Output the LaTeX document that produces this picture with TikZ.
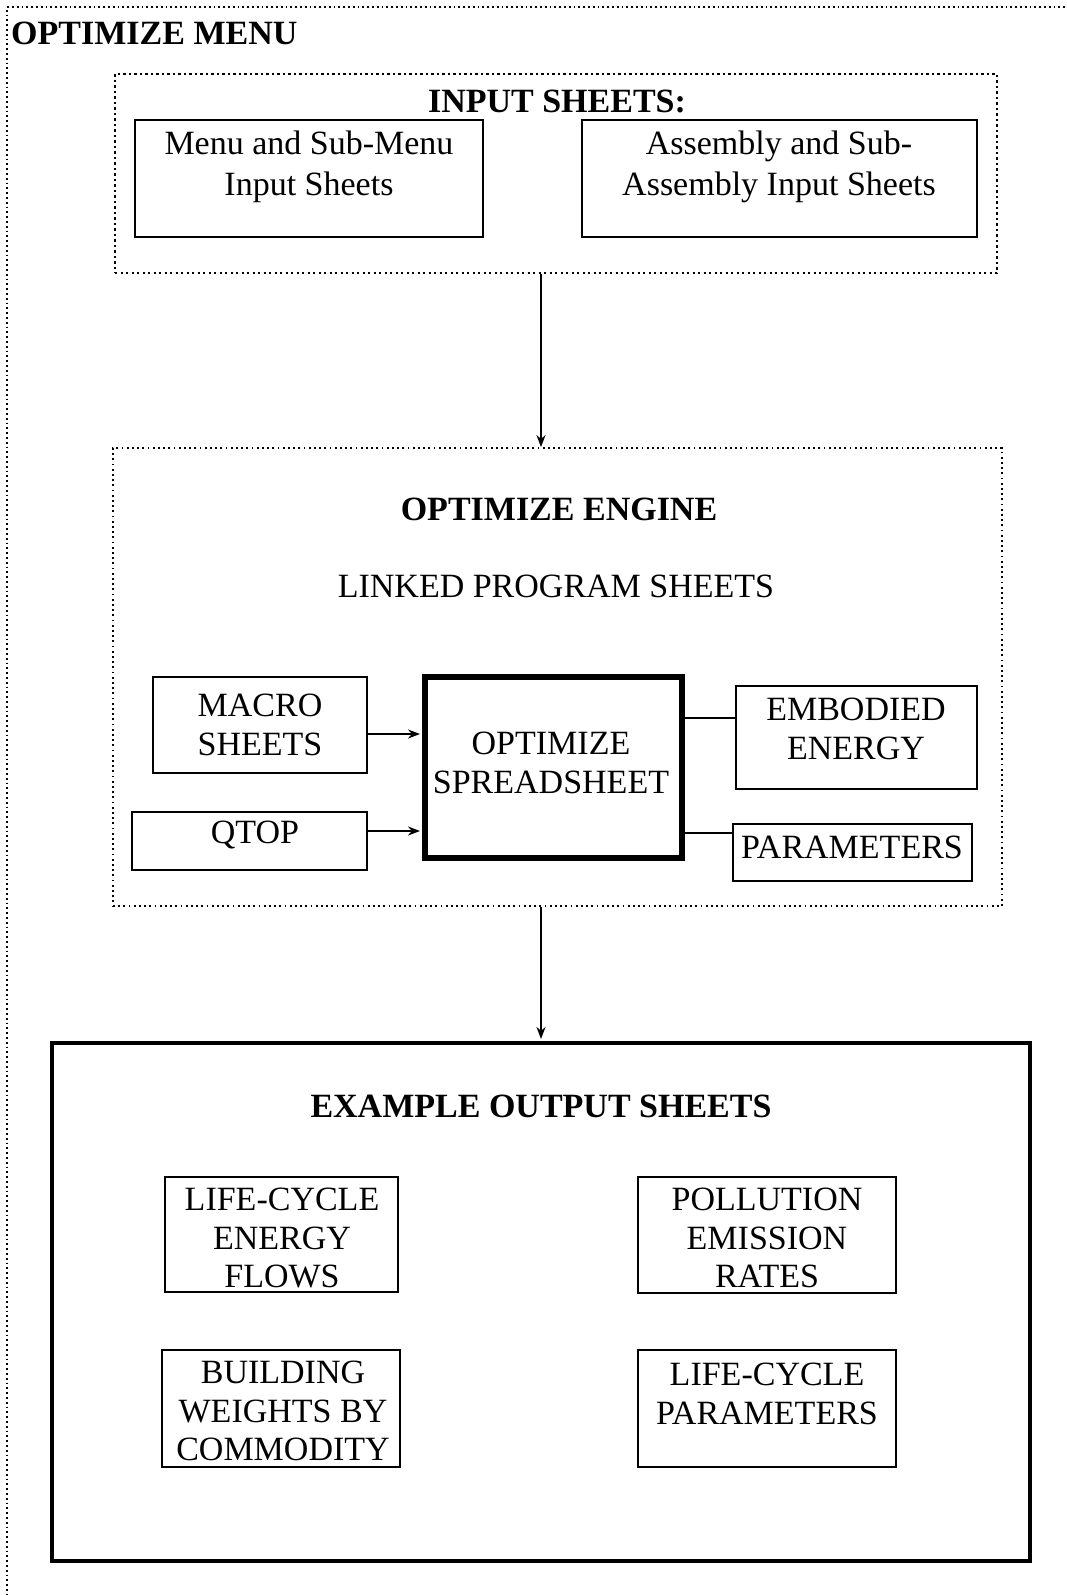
\documentclass[tikz,border=0pt]{standalone}
\usepackage{fontspec}
\setmainfont{Liberation Serif}
\usetikzlibrary{arrows.meta,calc}
\begin{document}
\begin{tikzpicture}[x=1pt,y=-1pt,
  box/.style={draw, line width=2pt, inner sep=0pt, align=center, font=\fontsize{34}{38.5}\selectfont},
  thickbox/.style={box, line width=6pt},
  outbox/.style={draw, line width=4pt, inner sep=0pt},
  txt/.style={inner sep=0pt, align=center, font=\fontsize{34}{38.5}\selectfont},
  ttl/.style={inner sep=0pt, font=\fontsize{34}{38.5}\selectfont\bfseries},
  dotbox/.style={draw, line width=2.3pt, dash pattern=on 2.3pt off 3.2pt, inner sep=0pt},
  dotbox2/.style={draw, line width=1.8pt, dash pattern=on 1.8pt off 3.4pt, inner sep=0pt},
  outer/.style={draw, line width=1.8pt, dash pattern=on 1.8pt off 3pt},
  arr/.style={-{Stealth[length=12pt,width=9pt]}, line width=2pt},
  link/.style={line width=2pt}]
\useasboundingbox (0,0) rectangle (1067,1595);
% outer frame (only top and left edges lie inside the page)
\draw[outer] (7,1610) -- (7,7) -- (1080,7);
\node[ttl, anchor=west] (menu) at (11,33) {OPTIMIZE MENU};

% input sheets
\node[dotbox, minimum width=882pt, minimum height=199pt] (input) at (556,173.5) {};
\node[ttl] (inputt) at (557,101) {INPUT SHEETS:};
\node[box, minimum width=348pt, minimum height=117pt] (b1) at (309,178.5) {};
\node[txt, font=\fontsize{34}{40.5}\selectfont] (b1t) at (309,167) {Menu and Sub-Menu\\Input Sheets};
\node[box, minimum width=395pt, minimum height=117pt] (b2) at (779.5,178.5) {};
\node[txt, font=\fontsize{34}{40.5}\selectfont] (b2t) at (779,167) {Assembly and Sub-\\Assembly Input Sheets};

% engine
\node[dotbox2, minimum width=889pt, minimum height=458pt] (engine) at (557.5,677) {};
\node[ttl] (enginet) at (559,509) {OPTIMIZE ENGINE};
\node[txt] (linked) at (556,586) {LINKED PROGRAM SHEETS};
\node[box, minimum width=214pt, minimum height=96pt] (macro) at (260,725) {MACRO\\SHEETS};
\node[box, minimum width=235pt, minimum height=58pt] (qtop) at (249.5,841) {};
\node[txt] (qtopt) at (255,835) {QTOP};
\node[thickbox, minimum width=257pt, minimum height=181pt] (sheet) at (553.5,767.5) {};
\node[txt] (sheett) at (551,763) {OPTIMIZE\\SPREADSHEET};
\node[box, minimum width=241pt, minimum height=103pt] (emb) at (856.5,737.5) {};
\node[txt] (embt) at (856,729) {EMBODIED\\ENERGY};
\node[box, minimum width=239pt, minimum height=57pt] (par) at (852.5,852.5) {};
\node[txt] (part) at (852,847) {PARAMETERS};

\coordinate (m1) at ($(macro.east)+(0,9)$);
\coordinate (q1) at ($(qtop.east)+(0,-10)$);
\coordinate (e1) at ($(emb.west)+(0,-20)$);
\coordinate (p1) at ($(par.west)+(0,-20)$);
\draw[arr, shorten >=2pt] (m1) -- (m1 -| sheet.west);
\draw[arr, shorten >=2pt] (q1) -- (q1 -| sheet.west);
\draw[link] (e1 -| sheet.east) -- (e1);
\draw[link] (p1 -| sheet.east) -- (p1);

% output
\node[outbox, minimum width=978pt, minimum height=518pt] (out) at (541,1302) {};
\node[ttl] (outt) at (541,1106) {EXAMPLE OUTPUT SHEETS};
\node[box, minimum width=233pt, minimum height=115pt] (lcef) at (281.5,1234.5) {};
\node[txt] (lceft) at (282,1238) {LIFE-CYCLE\\ENERGY\\FLOWS};
\node[box, minimum width=258pt, minimum height=116pt] (per) at (767,1235) {};
\node[txt] (pert) at (767,1238) {POLLUTION\\EMISSION\\RATES};
\node[box, minimum width=238pt, minimum height=117pt] (bwc) at (281,1408.5) {};
\node[txt] (bwct) at (283,1411) {BUILDING\\WEIGHTS BY\\COMMODITY};
\node[box, minimum width=258pt, minimum height=117pt] (lcp) at (767,1408.5) {};
\node[txt] (lcpt) at (767,1394) {LIFE-CYCLE\\PARAMETERS};

% vertical arrows
\draw[arr] (out.north |- input.south) -- (out.north |- engine.north);
\draw[arr, shorten >=2pt] (out.north |- engine.south) -- (out.north);
\end{tikzpicture}
\end{document}
